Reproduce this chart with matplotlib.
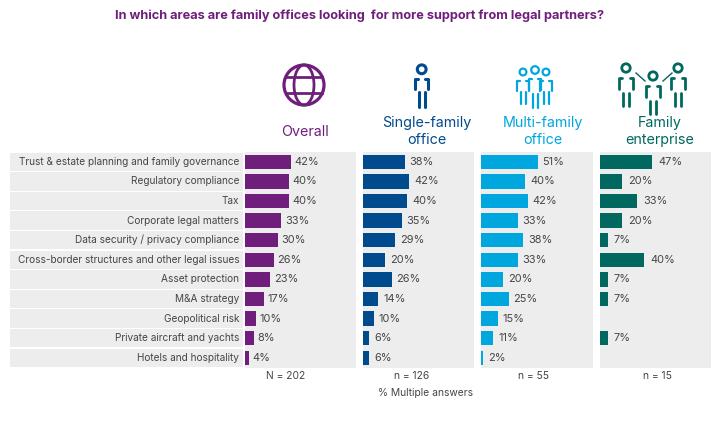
import matplotlib
matplotlib.use("Agg")
import matplotlib.pyplot as plt
from matplotlib.patches import Circle, Ellipse

plt.rcParams["font.family"] = ["Inter", "DejaVu Sans"]

categories = [
    "Trust & estate planning and family governance",
    "Regulatory compliance",
    "Tax",
    "Corporate legal matters",
    "Data security / privacy compliance",
    "Cross-border structures and other legal issues",
    "Asset protection",
    "M&A strategy",
    "Geopolitical risk",
    "Private aircraft and yachts",
    "Hotels and hospitality",
]
overall = [42, 40, 40, 33, 30, 26, 23, 17, 10, 8, 4]
single_family = [38, 42, 40, 35, 29, 20, 26, 14, 10, 6, 6]
multi_family = [51, 40, 42, 33, 38, 33, 20, 25, 15, 11, 2]
family_ent = [47, 20, 33, 20, 7, 40, 7, 7, None, 7, None]
base_labels = ["N = 202", "n = 126", "n = 55", "n = 15"]

W, H = 720, 430
PURPLE = "#6f1f7b"
NAVY = "#004b8d"
SKY = "#00a7df"
TEAL = "#00685e"
BAND = "#ededed"
GREY = "#454545"

fig = plt.figure(figsize=(7.2, 4.3), dpi=100)


def px_axes(x0, x1, y0, y1):
    return fig.add_axes([x0 / W, 1 - y1 / H, (x1 - x0) / W, (y1 - y0) / H])


top, bottom = 152, 367.6
n = len(categories)

# label column, one band per row with a thin white gap
ax = px_axes(10, 242.7, top, bottom)
ax.barh(range(n), [1] * n, height=0.93, color=BAND)
ax.set_xlim(0, 1)
ax.set_ylim(n - 0.5, -0.5)
ax.axis("off")
for i, c in enumerate(categories):
    ax.text(0.985, i, c, ha="right", va="center", fontsize=7.25, color=GREY)

panels = [
    (244.7, 355.7, overall, PURPLE, 2.5),
    (362.7, 474, single_family, NAVY, 3.5),
    (481, 592.7, multi_family, SKY, 3.5),
    (600, 711, family_ent, TEAL, 4.5),
]
for x0, x1, values, col, pad in panels:
    ax = px_axes(x0, x1, top, bottom)
    ax.set_facecolor(BAND)
    ax.set_xlim(0, (x1 - x0) / 1.11)
    ax.set_ylim(n - 0.5, -0.5)
    ax.set_xticks([])
    ax.set_yticks([])
    for s in ax.spines.values():
        s.set_visible(False)
    for i, v in enumerate(values):
        if v is None:
            continue
        ax.barh(i, v, height=0.73, color=col)
        ax.annotate(f"{v}%", (v, i), xytext=(pad, 0), textcoords="offset points",
                    va="center", fontsize=7.9, color=GREY)

# overlay in pixel coordinates for icons and headings
ov = fig.add_axes([0, 0, 1, 1], zorder=5)
ov.set_xlim(0, W)
ov.set_ylim(H, 0)
ov.axis("off")
ov.patch.set_alpha(0)

ov.text(360, 15.5, "In which areas are family offices looking  for more support from legal partners?",
        ha="center", va="center", fontsize=9.2, fontweight="bold", color=PURPLE)

headings = [
    (305, 131.7, "Overall", PURPLE),
    (426.5, 131.5, "Single-family\noffice", NAVY),
    (543, 131.5, "Multi-family\noffice", SKY),
    (659.5, 131.5, "Family\nenterprise", TEAL),
]
for x, y, t, col in headings:
    ov.text(x, y, t, ha="center", va="center", fontsize=10.3, color=col, linespacing=1.2)

for x, t in zip([286, 412, 533, 657], base_labels):
    ov.text(x, 376, t, ha="center", va="center", fontsize=7.4, color=GREY)
ov.text(425, 393, "% Multiple answers", ha="center", va="center", fontsize=7.4, color=GREY)

# globe icon
gx, gy, gr = 304, 85, 20
ov.add_patch(Circle((gx, gy), gr, fill=False, ec=PURPLE, lw=2.3))
ov.add_patch(Ellipse((gx, gy), gr, 2 * gr, fill=False, ec=PURPLE, lw=2))
ov.plot([gx - 18, gx + 18], [gy - 8, gy - 8], color=PURPLE, lw=2)
ov.plot([gx - 18, gx + 18], [gy + 8, gy + 8], color=PURPLE, lw=2)


def person(cx, cy, col, r=4.2, lw=2.0, gap=6, w=13, arm=10, leg=15, drop=13):
    # head, two bracket arms and two legs
    ov.add_patch(Circle((cx, cy), r, fill=False, ec=col, lw=lw))
    a0 = cy + r + 5.5
    ov.plot([cx - w / 2 + 3, cx - w / 2, cx - w / 2], [a0, a0, a0 + arm], color=col, lw=lw,
            solid_capstyle="round", solid_joinstyle="round")
    ov.plot([cx + w / 2 - 3, cx + w / 2, cx + w / 2], [a0, a0, a0 + arm], color=col, lw=lw,
            solid_capstyle="round", solid_joinstyle="round")
    l0 = a0 + drop
    for dx in (-gap / 2, gap / 2):
        ov.plot([cx + dx, cx + dx], [l0, l0 + leg], color=col, lw=lw, solid_capstyle="round")


person(421.7, 69.3, NAVY, r=4.4, lw=2.2)

person(523, 72, SKY, r=3.4, lw=1.6, gap=5, w=12, arm=10, leg=12, drop=11)
person(546, 72, SKY, r=3.4, lw=1.6, gap=5, w=12, arm=10, leg=12, drop=11)
person(535, 70, SKY, r=3.8, lw=1.6, gap=5, w=12, arm=11, leg=14, drop=15)

person(626, 68, TEAL, r=4.2, lw=2.0, gap=6, w=14, arm=11, leg=13, drop=15)
person(653, 76, TEAL, r=4.2, lw=2.0, gap=6, w=14, arm=11, leg=13, drop=15)
person(678, 68, TEAL, r=4.2, lw=2.0, gap=6, w=14, arm=11, leg=13, drop=15)
ov.plot([636, 645], [73, 81], color=TEAL, lw=1)
ov.plot([663, 672], [81, 73], color=TEAL, lw=1)

fig.savefig("out.png", dpi=100)
